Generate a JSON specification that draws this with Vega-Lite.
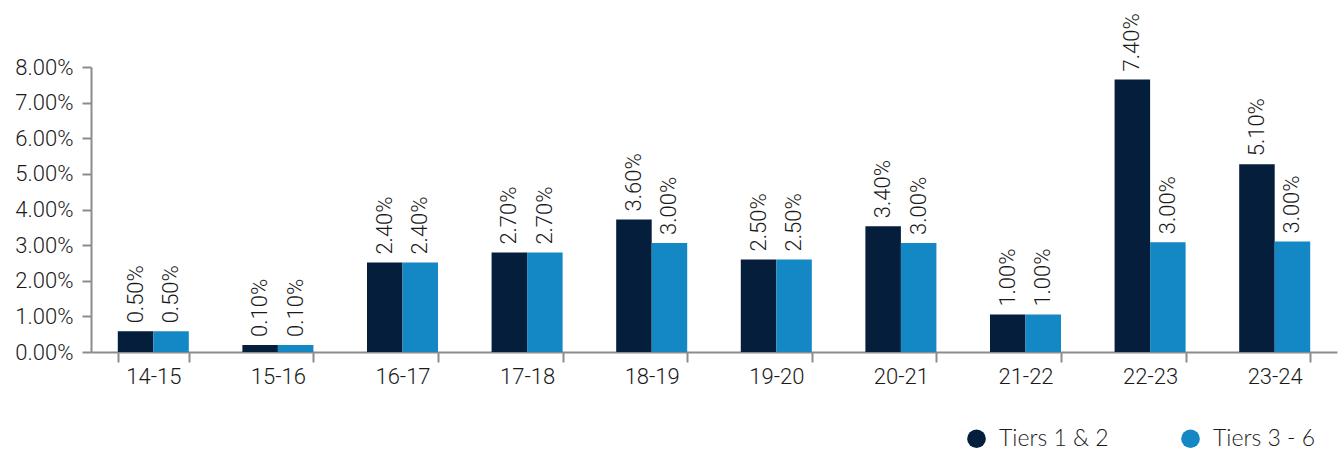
{
  "$schema": "https://vega.github.io/schema/vega-lite/v6.json",
  "width": 1246,
  "height": 285,
  "autosize": {"type": "none"},
  "padding": {"left": 91, "top": 67, "right": 5, "bottom": 99},
  "background": "white",
  "config": {"view": {"stroke": null}, "font": "Roboto"},
  "data": {
    "values": [
      {"year": "14-15", "tier": "Tiers 1 & 2", "value": 0.58, "label": "0.50%"},
      {"year": "14-15", "tier": "Tiers 3 - 6", "value": 0.58, "label": "0.50%"},
      {"year": "15-16", "tier": "Tiers 1 & 2", "value": 0.2, "label": "0.10%"},
      {"year": "15-16", "tier": "Tiers 3 - 6", "value": 0.2, "label": "0.10%"},
      {"year": "16-17", "tier": "Tiers 1 & 2", "value": 2.51, "label": "2.40%"},
      {"year": "16-17", "tier": "Tiers 3 - 6", "value": 2.51, "label": "2.40%"},
      {"year": "17-18", "tier": "Tiers 1 & 2", "value": 2.79, "label": "2.70%"},
      {"year": "17-18", "tier": "Tiers 3 - 6", "value": 2.79, "label": "2.70%"},
      {"year": "18-19", "tier": "Tiers 1 & 2", "value": 3.72, "label": "3.60%"},
      {"year": "18-19", "tier": "Tiers 3 - 6", "value": 3.06, "label": "3.00%"},
      {"year": "19-20", "tier": "Tiers 1 & 2", "value": 2.6, "label": "2.50%"},
      {"year": "19-20", "tier": "Tiers 3 - 6", "value": 2.6, "label": "2.50%"},
      {"year": "20-21", "tier": "Tiers 1 & 2", "value": 3.53, "label": "3.40%"},
      {"year": "20-21", "tier": "Tiers 3 - 6", "value": 3.06, "label": "3.00%"},
      {"year": "21-22", "tier": "Tiers 1 & 2", "value": 1.05, "label": "1.00%"},
      {"year": "21-22", "tier": "Tiers 3 - 6", "value": 1.05, "label": "1.00%"},
      {"year": "22-23", "tier": "Tiers 1 & 2", "value": 7.65, "label": "7.40%"},
      {"year": "22-23", "tier": "Tiers 3 - 6", "value": 3.08, "label": "3.00%"},
      {"year": "23-24", "tier": "Tiers 1 & 2", "value": 5.27, "label": "5.10%"},
      {"year": "23-24", "tier": "Tiers 3 - 6", "value": 3.1, "label": "3.00%"}
    ]
  },
  "encoding": {
    "x": {
      "field": "year",
      "type": "nominal",
      "sort": null,
      "scale": {"paddingInner": 0.43, "paddingOuter": 0.215},
      "axis": {
        "title": null,
        "labelAngle": 0,
        "tickBand": "extent",
        "tickSize": 10,
        "tickWidth": 2,
        "tickColor": "#8c8c8c",
        "domainColor": "#8c8c8c",
        "domainWidth": 2,
        "labelFontSize": 22,
        "labelFontWeight": 300,
        "labelColor": "#1a1a1a",
        "labelPadding": 4
      }
    },
    "xOffset": {"field": "tier", "type": "nominal", "sort": ["Tiers 1 & 2", "Tiers 3 - 6"]},
    "y": {
      "field": "value",
      "type": "quantitative",
      "scale": {"domain": [0, 8], "nice": false},
      "axis": {
        "title": null,
        "grid": false,
        "values": [0, 1, 2, 3, 4, 5, 6, 7, 8],
        "labelExpr": "format(datum.value, '.2f') + '%'",
        "tickSize": 9,
        "tickWidth": 2,
        "tickColor": "#8c8c8c",
        "domainColor": "#8c8c8c",
        "domainWidth": 2,
        "labelFontSize": 22,
        "labelFontWeight": 300,
        "labelColor": "#1a1a1a",
        "labelPadding": 9
      }
    }
  },
  "layer": [
    {
      "mark": {"type": "bar"},
      "encoding": {
        "color": {
          "field": "tier",
          "type": "nominal",
          "sort": ["Tiers 1 & 2", "Tiers 3 - 6"],
          "scale": {"domain": ["Tiers 1 & 2", "Tiers 3 - 6"], "range": ["#051e3c", "#1487c5"]},
          "legend": {
            "title": null,
            "orient": "none",
            "legendX": 874,
            "legendY": 360,
            "direction": "horizontal",
            "symbolType": "circle",
            "symbolSize": 350,
            "symbolStrokeWidth": 0,
            "symbolOpacity": 1,
            "labelFont": "Lato",
            "labelFontSize": 23,
            "labelFontWeight": 300,
            "labelColor": "#1a1a1a",
            "labelOffset": 11,
            "columnPadding": 70
          }
        }
      }
    },
    {
      "mark": {"type": "text", "angle": -90, "align": "left", "baseline": "middle", "dx": 8, "fontSize": 22, "fontWeight": 300, "color": "#1a1a1a"},
      "encoding": {"text": {"field": "label"}}
    }
  ]
}
